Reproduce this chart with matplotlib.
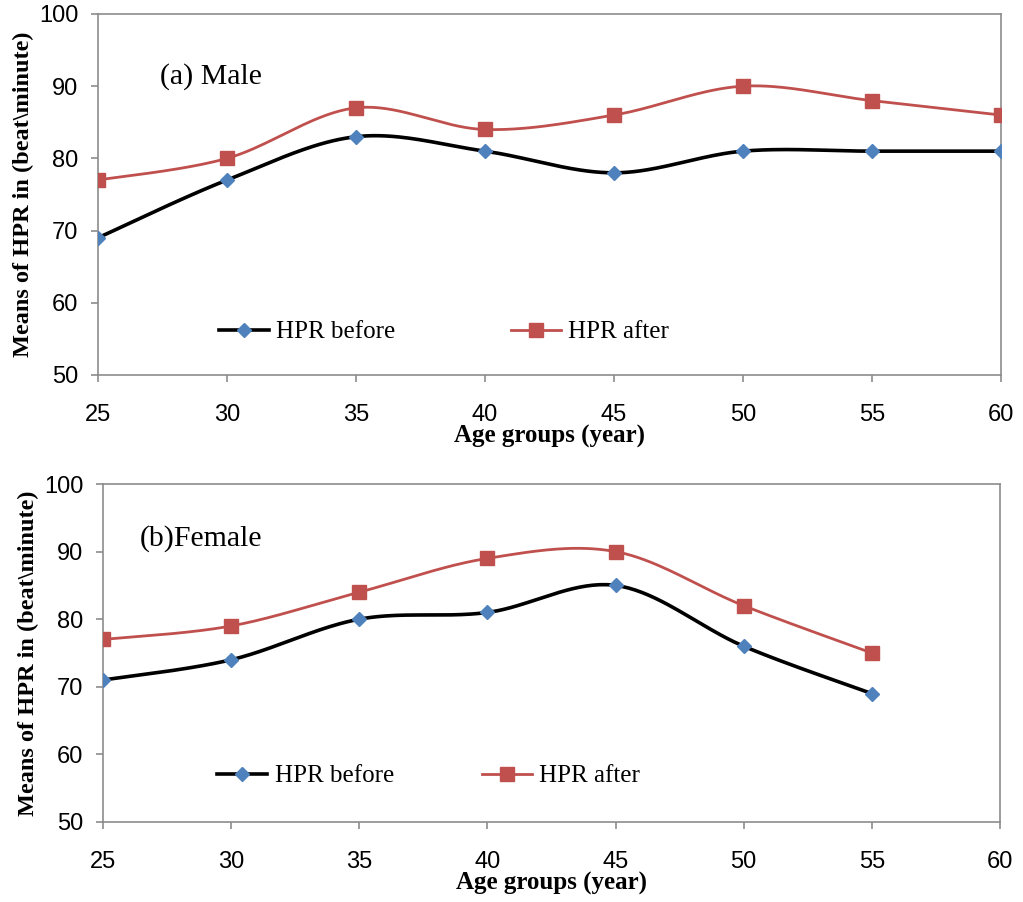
import numpy as np
import matplotlib.pyplot as plt

ages = [25, 30, 35, 40, 45, 50, 55, 60]
male_before = [69, 77, 83, 81, 78, 81, 81, 81]
male_after = [77, 80, 87, 84, 86, 90, 88, 86]

female_ages = [25, 30, 35, 40, 45, 50, 55]
female_before = [71, 74, 80, 81, 85, 76, 69]
female_after = [77, 79, 84, 89, 90, 82, 75]

BLUE = "#4F81BD"
RED = "#C0504D"
GRAY = "#8C8C8C"
SERIF = "Liberation Serif"
SANS = "Liberation Sans"


def smooth(x, y, n=40):
    # Excel-style smoothed line: cubic Bezier with Catmull-Rom control points
    p = np.column_stack([x, y]).astype(float)
    ext = np.vstack([p[0], p, p[-1]])
    t = np.linspace(0, 1, n)[:, None]
    segs = []
    for i in range(1, len(ext) - 2):
        p0, p3 = ext[i], ext[i + 1]
        c1 = p0 + (ext[i + 1] - ext[i - 1]) / 6
        c2 = p3 - (ext[i + 2] - ext[i]) / 6
        b = ((1 - t) ** 3) * p0 + 3 * ((1 - t) ** 2) * t * c1 + 3 * (1 - t) * t**2 * c2 + t**3 * p3
        segs.append(b if i == 1 else b[1:])
    out = np.vstack(segs)
    return out[:, 0], out[:, 1]


def draw(ax, x, before, after, panel, panel_xy, leg_xy, colspace):
    sx, sy = smooth(x, before)
    ax.plot(sx, sy, color="black", lw=2.6, zorder=2)
    ax.plot(x, before, ls="none", marker="D", ms=7.5, color=BLUE, zorder=3)
    sx, sy = smooth(x, after)
    ax.plot(sx, sy, color=RED, lw=2.0, zorder=2)
    ax.plot(x, after, ls="none", marker="s", ms=9.5, color=RED, zorder=3)

    # legend proxies
    h1, = ax.plot([], [], color="black", lw=2.6, marker="D", ms=7.5, mfc=BLUE, mec=BLUE)
    h2, = ax.plot([], [], color=RED, lw=2.0, marker="s", ms=9.5)
    ax.legend([h1, h2], ["HPR before", "HPR after"], ncol=2, frameon=False,
              loc="center", bbox_to_anchor=leg_xy, handlelength=2.0,
              handletextpad=0.3, columnspacing=colspace,
              prop={"family": SERIF, "size": 18})

    ax.text(*panel_xy, panel, transform=ax.transAxes, family=SERIF, fontsize=21.5,
            va="center", ha="left")

    ax.set_xlim(25, 60)
    ax.set_ylim(50, 100)
    ax.set_xticks(ages)
    ax.set_yticks(range(50, 101, 10))
    for s in ax.spines.values():
        s.set_color(GRAY)
        s.set_linewidth(1.2)
    ax.tick_params(colors=GRAY, labelcolor="black", length=5, width=1.2,
                   labelsize=17)
    ax.tick_params(axis="x", pad=16)
    ax.tick_params(axis="y", pad=9)
    for lab in ax.get_xticklabels() + ax.get_yticklabels():
        lab.set_family(SANS)
    ax.set_xlabel("Age groups (year)", family=SERIF, fontweight="bold",
                  fontsize=18, labelpad=-1)
    ax.set_ylabel("Means of HPR in (beat\\minute)", family=SERIF,
                  fontweight="bold", fontsize=17.5, labelpad=4)


fig = plt.figure(figsize=(10.23, 9.02), dpi=100)
ax1 = fig.add_axes([0.0958, 0.5843, 0.8827, 0.4002])
ax2 = fig.add_axes([0.1007, 0.0887, 0.8768, 0.3747])

draw(ax1, ages, male_before, male_after, "(a) Male", (0.069, 0.828), (0.383, 0.119), 4.6)
draw(ax2, female_ages, female_before, female_after, "(b)Female", (0.041, 0.84), (0.363, 0.136), 3.5)

fig.savefig("out.png", dpi=100)
